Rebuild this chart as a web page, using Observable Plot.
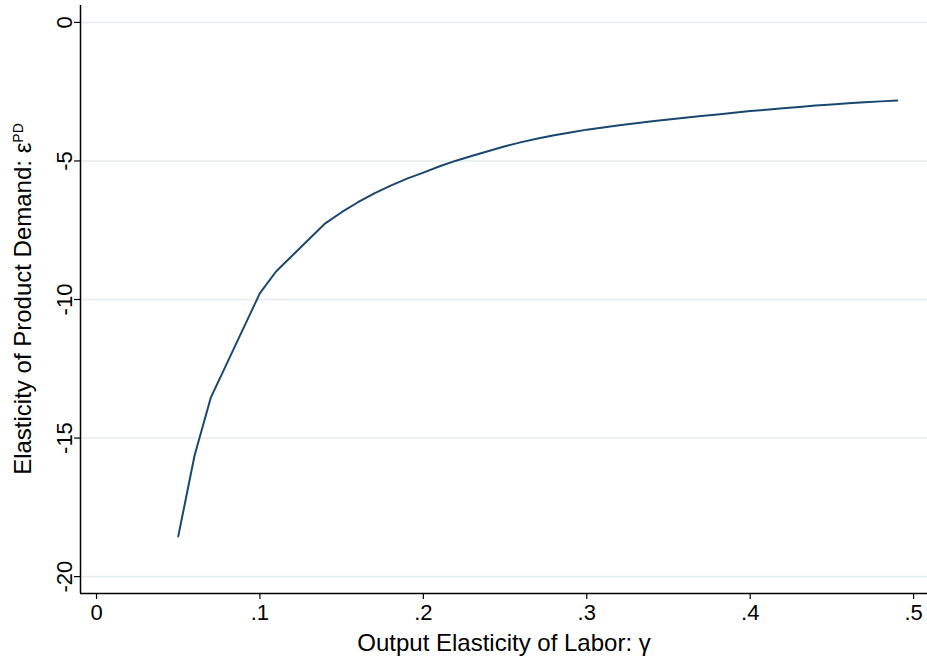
<!DOCTYPE html>
<html>
<head>
<meta charset="utf-8">
<script src="https://cdn.jsdelivr.net/npm/d3@7"></script>
<script src="https://cdn.jsdelivr.net/npm/@observablehq/plot@0.6"></script>
<style>
  html, body { margin: 0; padding: 0; background: #ffffff; }
  #chart svg { display: block; }
</style>
</head>
<body>
<div id="chart"></div>
<script>
// Output elasticity of labor (gamma) and elasticity of product demand (epsilon^PD)
const gamma = [0.05, 0.06, 0.07, 0.10, 0.11, 0.14, 0.15, 0.16, 0.17, 0.18, 0.19, 0.20,
  0.21, 0.22, 0.23, 0.24, 0.25, 0.26, 0.27, 0.28, 0.29, 0.30, 0.31, 0.32, 0.33, 0.34,
  0.35, 0.36, 0.37, 0.38, 0.39, 0.40, 0.41, 0.42, 0.43, 0.44, 0.45, 0.46, 0.47, 0.48, 0.49];
const elasticity = [-18.55, -15.63, -13.53, -9.77, -8.98, -7.25, -6.85, -6.49, -6.17, -5.89, -5.64, -5.42,
  -5.19, -4.99, -4.81, -4.64, -4.47, -4.32, -4.19, -4.07, -3.97, -3.87, -3.79, -3.71, -3.64, -3.57,
  -3.50, -3.44, -3.38, -3.32, -3.26, -3.20, -3.15, -3.10, -3.05, -3.00, -2.96, -2.92, -2.88, -2.85, -2.82];

const xTicks = [0, 0.1, 0.2, 0.3, 0.4, 0.5];
const xTickLabels = ["0", ".1", ".2", ".3", ".4", ".5"];
const yTicks = [0, -5, -10, -15, -20];
const yTickLabels = ["0", "-5", "-10", "-15", "-20"];

const xTitle = "Output Elasticity of Labor: \u03b3";
const yTitleMain = "Elasticity of Product Demand: \u03b5";
const yTitleSup = "PD";

const data = gamma.map((g, i) => ({gamma: g, eps: elasticity[i]}));
const yLabelData = yTicks.map((v, i) => ({v, label: yTickLabels[i]}));

const xDomain = [-0.0098, 0.5085];
const yDomain = [-20.61, 0.61];
const font = "'Liberation Sans', Arial, Helvetica, sans-serif";

const chart = Plot.plot({
  width: 927,
  height: 662,
  marginLeft: 80,
  marginRight: 0,
  marginTop: 5,
  marginBottom: 69,
  style: {fontFamily: font, fontSize: "22px", background: "#ffffff", color: "#000000"},
  x: {type: "linear", domain: xDomain, axis: null},
  y: {type: "linear", domain: yDomain, axis: null},
  marks: [
    Plot.gridY(yTicks, {stroke: "#e3eef1", strokeOpacity: 1, strokeWidth: 1.5}),
    // axis lines
    Plot.ruleX([xDomain[0]], {stroke: "#000", strokeWidth: 1.5}),
    Plot.ruleY([yDomain[0]], {stroke: "#000", strokeWidth: 1.5}),
    Plot.axisX(xTicks, {anchor: "bottom", tickSize: 6, tickPadding: 5, tickFormat: (d, i) => xTickLabels[i], fontSize: 22, label: null, stroke: "#000", strokeWidth: 1.2}),
    Plot.axisY(yTicks, {anchor: "left", tickSize: 6, tickFormat: () => "", label: null, stroke: "#000", strokeWidth: 1.2}),
    Plot.text(yLabelData, {
      x: () => xDomain[0], y: "v", text: "label",
      rotate: -90, textAnchor: "middle", lineAnchor: "bottom", dx: -9,
      fontSize: 22, fill: "#000"
    }),
    Plot.line(data, {x: "gamma", y: "eps", stroke: "#1a476f", strokeWidth: 2}),
    Plot.text([{t: xTitle}], {
      x: () => (xDomain[0] + xDomain[1]) / 2, y: () => yDomain[0], text: "t",
      dy: 40, lineAnchor: "top", textAnchor: "middle", fontSize: 24, fill: "#000"
    })
  ]
});

document.getElementById("chart").appendChild(chart);

// y-axis title with superscript
const svg = d3.select(chart);
const t = svg.append("text")
  .attr("transform", "translate(31, 299) rotate(-90)")
  .attr("text-anchor", "middle")
  .attr("font-family", font)
  .attr("font-size", 24)
  .attr("fill", "#000");
t.append("tspan").text(yTitleMain);
t.append("tspan").attr("baseline-shift", "super").attr("font-size", 14).text(yTitleSup);
</script>
</body>
</html>
